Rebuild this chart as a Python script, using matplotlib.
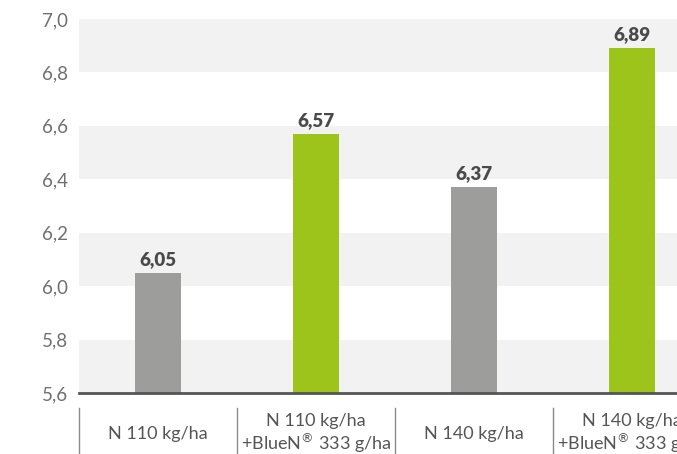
import numpy as np
import matplotlib.pyplot as plt
from matplotlib.transforms import blended_transform_factory

# Data
categories = ["N 110 kg/ha",
              "N 110 kg/ha\n+BlueN$^{®}$ 333 g/ha",
              "N 140 kg/ha",
              "N 140 kg/ha\n+BlueN$^{®}$ 333 g/ha"]
values = [6.05, 6.57, 6.37, 6.89]
value_labels = ["6,05", "6,57", "6,37", "6,89"]
bar_colors = ["#9d9d9c", "#9dc41a", "#9d9d9c", "#9dc41a"]
yticks = [5.6, 5.8, 6.0, 6.2, 6.4, 6.6, 6.8, 7.0]
ytick_labels = ["5,6", "5,8", "6,0", "6,2", "6,4", "6,6", "6,8", "7,0"]

plt.rcParams['font.family'] = ['Lato', 'DejaVu Sans']

fig = plt.figure(figsize=(6.77, 4.54), dpi=100)
# axes runs past the right edge of the picture, as in the reference
ax = fig.add_axes([79 / 677, 61 / 454, 632 / 677, 374 / 454])

x = np.arange(len(values))

# alternating background bands
for lo in [5.6, 6.0, 6.4, 6.8]:
    ax.axhspan(lo, lo + 0.2, color="#f2f2f2", zorder=0, lw=0)

ax.bar(x, np.array(values) - 5.6, bottom=5.6, width=0.285, color=bar_colors, zorder=2)

for xi, v, lab in zip(x, values, value_labels):
    ax.text(xi, v + 0.018, lab, ha="center", va="bottom", fontsize=13.5,
            fontweight="heavy", color="#4a4a4a")

ax.set_xlim(-0.5, 3.5)
ax.set_ylim(5.6, 7.0)
ax.set_yticks(yticks)
ax.set_yticklabels(ytick_labels, fontsize=13.5, color="#707070")
ax.tick_params(axis="y", length=0, pad=8)
ax.set_xticks([])

for s in ["top", "right", "left"]:
    ax.spines[s].set_visible(False)
ax.spines["bottom"].set_color("#555555")
ax.spines["bottom"].set_linewidth(2)
ax.spines["bottom"].set_zorder(3)

# category labels and separators below the axis
trans = blended_transform_factory(ax.transData, ax.transAxes)
for xi, cat in zip(x, categories):
    ax.text(xi, -0.11, cat, transform=trans, ha="center", va="center",
            fontsize=13, color="#555555", linespacing=1.1, clip_on=False)
for b in np.arange(-0.5, 4.0, 1.0):
    ax.plot([b, b], [-0.04, -0.17], transform=trans, color="#8a8a8a",
            lw=1, clip_on=False)

plt.savefig("out.png", dpi=100)
plt.close()
